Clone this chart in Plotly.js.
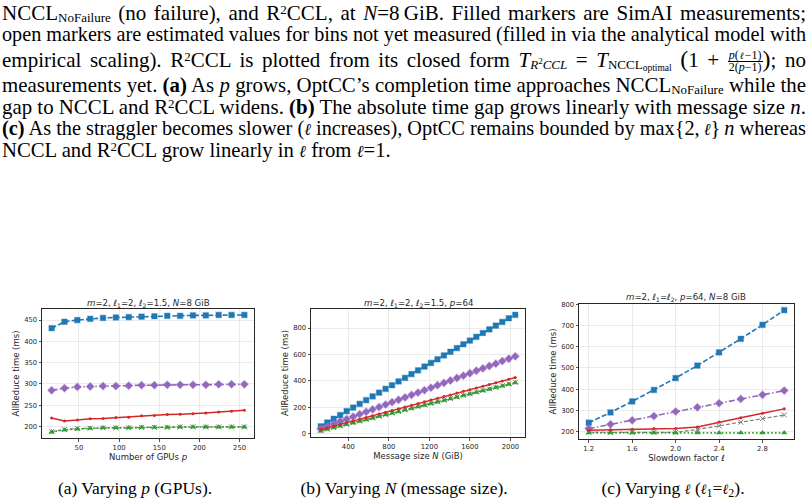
<!DOCTYPE html>
<html>
<head>
<meta charset="utf-8">
<script src="https://cdn.plot.ly/plotly-3.0.1.min.js"></script>
<style>
  html, body { margin:0; padding:0; background:#fff; }
  #wrap { position:relative; width:808px; height:502px; overflow:hidden; }
  #plot { position:absolute; left:0; top:0; width:808px; height:502px; }
  .ln { position:absolute; left:2px; width:804px; font-family:'Liberation Serif', 'Times New Roman', serif;
        font-size:21px; line-height:22px; height:22px; color:#000; white-space:nowrap;
        text-align:justify; text-align-last:justify; z-index:5; }
  .ln.last { text-align:left; text-align-last:left; }
  .ln sub { font-size:13px; line-height:0; vertical-align:-2px; }
  .ln sub sub { font-size:9.5px; vertical-align:-1.5px; }
  .ln sup { font-size:13px; line-height:0; vertical-align:6px; }
  .cap sub { font-size:12px; line-height:0; vertical-align:-3px; }
  .ell { font-family:'DejaVu Serif', serif; font-style:italic; font-size:0.8em; }
  .frac { display:inline-block; vertical-align:-4px; font-size:12px; line-height:10.5px; text-align:center; }
  .frac .num { display:block; border-bottom:0.8px solid #000; padding:0 1px; }
  .frac .den { display:block; padding:0 1px; }
  .big { font-size:24px; line-height:0; }
  .cap { position:absolute; top:477px; font-family:'Liberation Serif', 'Times New Roman', serif;
         font-size:17.5px; line-height:22px; color:#000; white-space:nowrap; transform:translateX(-50%); z-index:5; }
</style>
</head>
<body>
<div id="wrap">
  <div id="plot"></div>
  <div class="ln" style="top:2px">NCCL<sub>NoFailure</sub> (no failure), and R<sup>2</sup>CCL, at <i>N</i>=8&#8201;GiB. Filled markers are SimAI measurements;</div>
  <div class="ln" style="top:23px">open markers are estimated values for bins not yet measured (filled in via the analytical model with</div>
  <div class="ln" style="top:49px">empirical scaling). R<sup>2</sup>CCL is plotted from its closed form <i>T</i><sub><i>R</i><sup style="font-size:9px;vertical-align:5px">2</sup><i>CCL</i></sub> = <i>T</i><sub>NCCL<sub>optimal</sub></sub> <span class="big">(</span>1 + <span class="frac"><span class="num"><i>p</i>(<span class="ell">ℓ</span>−1)</span><span class="den">2(<i>p</i>−1)</span></span><span class="big">)</span>; no</div>
  <div class="ln" style="top:74px">measurements yet. <b>(a)</b> As <i>p</i> grows, OptCC’s completion time approaches NCCL<sub>NoFailure</sub> while the</div>
  <div class="ln" style="top:96px">gap to NCCL and R<sup>2</sup>CCL widens. <b>(b)</b> The absolute time gap grows linearly with message size <i>n</i>.</div>
  <div class="ln" style="top:117px"><b>(c)</b> As the straggler becomes slower (<span class="ell">ℓ</span> increases), OptCC remains bounded by max{2,&#8201;<span class="ell">ℓ</span>}&#8201;<i>n</i> whereas</div>
  <div class="ln last" style="top:139px">NCCL and R<sup>2</sup>CCL grow linearly in <span class="ell">ℓ</span> from <span class="ell">ℓ</span>=1.</div>

  <div class="cap" style="left:135px">(a) Varying <i>p</i> (GPUs).</div>
  <div class="cap" style="left:404px">(b) Varying <i>N</i> (message size).</div>
  <div class="cap" style="left:673px">(c) Varying <span class="ell">ℓ</span> (<span class="ell">ℓ</span><sub>1</sub>=<span class="ell">ℓ</span><sub>2</sub>).</div>
</div>
<script>
// ---------- Panel (a): varying p ----------
const pA      = [16,32,48,64,80,96,112,128,144,160,176,192,208,224,240,256];
const ncclA   = [431,446,450,453,455,456,457,458,459,460,460,461,461,462,462,462];
const r2cclA  = [285,290,293,294,295,295,296,297,297,298,298,298,298,299,299,299];
const optccA  = [220,213,215,218,219,221,222,225,226,228,229,230,232,234,236,238];
const lowerA  = [188,193,195,196,197,197,197,198,198,198,199,199,199,199,199,199];
const nofailA = [187,192,194,196,197,197,197,198,198,198,199,199,199,199,199,199];

// ---------- Panel (b): varying N ----------
const nB      = [128,192,256,320,384,448,512,576,640,704,768,832,896,960,1024,1088,1152,1216,1280,1344,1408,1472,1536,1600,1664,1728,1792,1856,1920,1984,2048];
const ncclB   = [55,84,112,140,170,197,225,253,282,310,339,366,395,422,451,479,508,535,563,592,620,648,677,705,733,762,790,818,846,874,900];
const r2cclB  = [37,55,73,92,110,128,147,165,183,201,220,238,256,274,293,311,329,348,366,384,402,421,439,457,476,494,512,530,549,567,585];
const optccB  = [30,43,56,70,83,96,109,122,135,149,162,175,188,201,214,228,241,254,267,280,293,307,320,333,346,359,372,386,399,412,425];
const lowerB  = [22,34,46,58,71,83,95,107,119,132,144,156,168,180,193,205,217,229,241,254,266,278,290,302,315,327,339,351,363,376,388];
const nofailB = [20,32,44,57,69,81,93,105,117,130,142,154,166,178,190,203,215,227,239,251,263,276,288,300,312,324,336,349,361,373,385];

// ---------- Panel (c): varying slowdown factor ----------
const ellC    = [1.2,1.4,1.6,1.8,2.0,2.2,2.4,2.6,2.8,3.0];
const ncclC   = [242,290,342,396,452,511,573,637,703,772];
const r2cclC  = [214,234,253,273,294,314,334,354,373,393];
const optccC  = [206,208,211,214,214,222,245,265,286,307];
const lowerC  = [197,196,196,196,196,210,227,244,261,278];
const nofailC = [194,194,194,194,194,194,194,194,194,194];

// tick labels
const ticksAx = [50,100,150,200,250];
const ticksAy = [200,250,300,350,400,450];
const ticksBx = [400,800,1200,1600,2000];
const ticksBy = [0,200,400,600,800];
const ticksCx = [1.2,1.6,2.0,2.4,2.8];
const ticksCxText = ['1.2','1.6','2.0','2.4','2.8'];
const ticksCy = [200,300,400,500,600,700,800];

const titles = [
  '<i>m</i>=2, <i>ℓ</i><sub>1</sub>=2, <i>ℓ</i><sub>2</sub>=1.5, <i>N</i>=8 GiB',
  '<i>m</i>=2, <i>ℓ</i><sub>1</sub>=2, <i>ℓ</i><sub>2</sub>=1.5, <i>p</i>=64',
  '<i>m</i>=2, <i>ℓ</i><sub>1</sub>=<i>ℓ</i><sub>2</sub>, <i>p</i>=64, <i>N</i>=8 GiB'
];
const xTitles = ['Number of GPUs <i>p</i>', 'Message size <i>N</i> (GiB)', 'Slowdown factor <i>ℓ</i>'];
const yTitle = 'AllReduce time (ms)';

const BLUE='#1f77b4', PURPLE='#9467bd', RED='#d62728', GRAY='#7f7f7f', GREEN='#2ca02c';

function series(x, ys, ax, ay) {
  const [nccl, r2, opt, low, nof] = ys;
  return [
    {x:x, y:nccl, xaxis:ax, yaxis:ay, mode:'lines+markers', name:'NCCL',
     line:{color:BLUE, width:1.6, dash:'5px,2.2px'},
     marker:{symbol:'square', size:5.5, color:BLUE, line:{color:'rgba(31,119,180,0.35)', width:1.2}}},
    {x:x, y:r2, xaxis:ax, yaxis:ay, mode:'lines+markers', name:'R²CCL',
     line:{color:PURPLE, width:1.6, dash:'6px,2.2px,1.5px,2.2px'},
     marker:{symbol:'diamond', size:6, color:PURPLE, line:{color:'rgba(148,103,189,0.35)', width:1.2}}},
    {x:x, y:low, xaxis:ax, yaxis:ay, mode:'lines+markers', name:'Lower bound',
     line:{color:GRAY, width:1.2, dash:'4px,2px'},
     marker:{symbol:'x-thin', size:5, color:GRAY, line:{color:GRAY, width:1}}},
    {x:x, y:nof, xaxis:ax, yaxis:ay, mode:'lines+markers', name:'NCCL NoFailure',
     line:{color:GREEN, width:1.6, dash:'1.6px,2.2px'},
     marker:{symbol:'triangle-up', size:5, color:GREEN, line:{color:'rgba(44,160,44,0.35)', width:1}}},
    {x:x, y:opt, xaxis:ax, yaxis:ay, mode:'lines+markers', name:'OptCC',
     line:{color:RED, width:1.5},
     marker:{symbol:'circle', size:3, color:RED}}
  ];
}

const data = [].concat(
  series(pA, [ncclA, r2cclA, optccA, lowerA, nofailA], 'x', 'y'),
  series(nB, [ncclB, r2cclB, optccB, lowerB, nofailB], 'x2', 'y2'),
  series(ellC, [ncclC, r2cclC, optccC, lowerC, nofailC], 'x3', 'y3')
);

const W=808, H=502;
const px = v => v/W, py = v => 1 - v/H;

const base = {
  showline:true, mirror:true, linecolor:'#262626', linewidth:1,
  ticks:'outside', ticklen:2.5, tickwidth:0.8, tickcolor:'#262626',
  showgrid:true, gridcolor:'#e6e6e6', gridwidth:0.8, zeroline:false,
  tickfont:{family:'DejaVu Sans', size:6.8, color:'#262626'}
};
const tfont = {family:'DejaVu Sans', size:8.5, color:'#262626'};
const hfont = {family:'DejaVu Sans', size:8.6, color:'#262626'};

const layout = {
  width:W, height:H, margin:{l:0,r:0,t:0,b:0}, showlegend:false,
  paper_bgcolor:'#fff', plot_bgcolor:'#fff',
  xaxis: Object.assign({}, base, {domain:[px(42),px(254)], range:[4,268], tickvals:ticksAx, anchor:'y',
          title:{text:xTitles[0], font:tfont, standoff:3}}),
  yaxis: Object.assign({}, base, {domain:[py(438),py(309)], range:[173,476], tickvals:ticksAy, anchor:'x',
          title:{text:yTitle, font:tfont, standoff:3}}),
  xaxis2: Object.assign({}, base, {domain:[px(311),px(525)], range:[32,2144], tickvals:ticksBx, anchor:'y2',
          title:{text:xTitles[1], font:tfont, standoff:3}}),
  yaxis2: Object.assign({}, base, {domain:[py(437),py(309)], range:[-26,944], tickvals:ticksBy, anchor:'x2',
          title:{text:yTitle, font:tfont, standoff:3}}),
  xaxis3: Object.assign({}, base, {domain:[px(579),px(794)], range:[1.11,3.09], tickvals:ticksCx, ticktext:ticksCxText, anchor:'y3',
          title:{text:xTitles[2], font:tfont, standoff:3}}),
  yaxis3: Object.assign({}, base, {domain:[py(439),py(304)], range:[165,801], tickvals:ticksCy, anchor:'x3',
          title:{text:yTitle, font:tfont, standoff:3}}),
  annotations: [
    {text:titles[0], xref:'paper', yref:'paper', x:px(148), y:py(303), xanchor:'center', yanchor:'middle', showarrow:false, font:hfont},
    {text:titles[1], xref:'paper', yref:'paper', x:px(418), y:py(303), xanchor:'center', yanchor:'middle', showarrow:false, font:hfont},
    {text:titles[2], xref:'paper', yref:'paper', x:px(686), y:py(297), xanchor:'center', yanchor:'middle', showarrow:false, font:hfont}
  ]
};

Plotly.newPlot('plot', data, layout, {staticPlot:true, displayModeBar:false});

// fit each justified text line to the 804px column (condensed like the typeset source)
function fitLines() {
  const target = 804;
  const scales = [];
  let lastDiv = null;
  document.querySelectorAll('.ln').forEach(div => {
    div.style.transform = '';
    div.style.width = 'auto';
    div.style.textAlign = 'left';
    div.style.textAlignLast = 'left';
    const w = div.getBoundingClientRect().width;
    div.style.transformOrigin = '0 0';
    if (div.classList.contains('last')) {
      div.style.width = Math.ceil(w) + 'px';
      lastDiv = div;
      return;
    }
    if (w > target) {
      div.style.width = w + 'px';
      div.style.transform = 'scaleX(' + (target / w) + ')';
      scales.push(target / w);
    } else {
      div.style.width = target + 'px';
      div.style.textAlign = 'justify';
      div.style.textAlignLast = 'justify';
      scales.push(1);
    }
  });
  if (lastDiv && scales.length) {
    const s = scales.reduce((a, b) => a + b, 0) / scales.length;
    lastDiv.style.transform = 'scaleX(' + s + ')';
  }
}
fitLines();
if (document.fonts && document.fonts.ready) document.fonts.ready.then(fitLines);
</script>
</body>
</html>
